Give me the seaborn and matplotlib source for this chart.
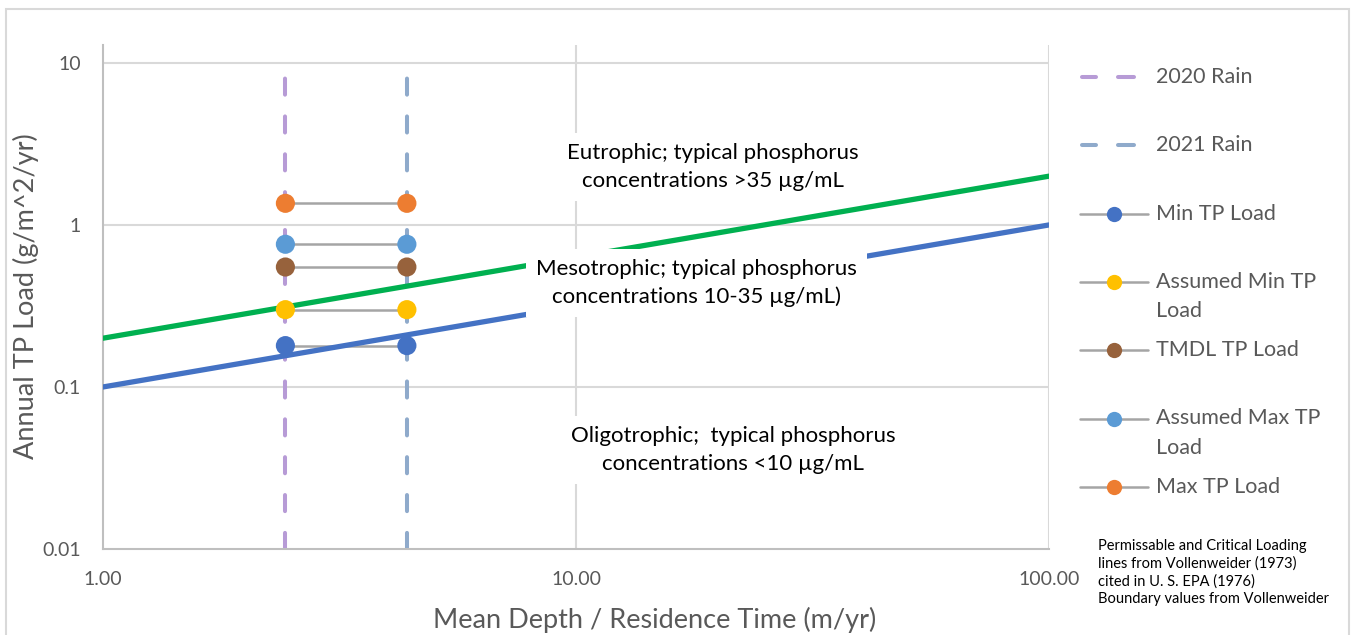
import numpy as np
import pandas as pd
import matplotlib
matplotlib.use("Agg")
import matplotlib.pyplot as plt
from matplotlib.lines import Line2D
from matplotlib.patches import Rectangle
from matplotlib.ticker import FixedLocator, FixedFormatter, NullLocator
import seaborn as sns

# Data
rain_labels = ["2020 Rain", "2021 Rain"]
rain_x = [2.43, 4.39]            # mean depth / residence time (m/yr)
rain_colors = ["#B79BD6", "#8FAACB"]
rain_span = [0.01, 10]

load_labels = ["Min TP Load", "Assumed Min TP\nLoad", "TMDL TP Load",
               "Assumed Max TP\nLoad", "Max TP Load"]
load_values = [0.18, 0.30, 0.55, 0.76, 1.36]   # g/m^2/yr, same at both x positions
load_colors = ["#4472C4", "#FFC000", "#97623C", "#5B9BD5", "#ED7D31"]

# Vollenweider permissible / critical loading lines (endpoints)
boundary_x = [1, 100]
permissible = [0.1, 1.0]
critical = [0.2, 2.0]

x_ticks = [1, 10, 100]
x_ticklabels = ["1.00", "10.00", "100.00"]
y_ticks = [0.01, 0.1, 1, 10]
y_ticklabels = ["0.01", "0.1", "1", "10"]

# long-form table for the load series
loads = pd.DataFrame({
    "series": np.repeat(load_labels, len(rain_x)),
    "x": rain_x * len(load_labels),
    "y": np.repeat(load_values, len(rain_x)),
})

sns.set_style("white")
plt.rcParams["font.family"] = ["Lato", "DejaVu Sans"]

fig = plt.figure(figsize=(13.51, 6.35), dpi=100)
ax = fig.add_axes([103 / 1351, 1 - 549 / 635, 946 / 1351, 504 / 635])

ax.set_xscale("log")
ax.set_yscale("log")
ax.set_xlim(1, 100)
ax.set_ylim(0.01, 12.9)

grid_col = "#D9D9D9"
for v in x_ticks[1:]:
    ax.axvline(v, color=grid_col, lw=1.5, zorder=0)
for v in y_ticks[1:]:
    ax.axhline(v, color=grid_col, lw=1.5, zorder=0)

# vertical rain lines
for lab, xv, col in zip(rain_labels, rain_x, rain_colors):
    sns.lineplot(x=[xv, xv], y=rain_span, ax=ax, color=col, lw=2.9,
                 dashes=False, zorder=2, estimator=None, sort=False)
    ln = ax.lines[-1]
    ln.set_dashes([4.0, 5.4])
    ln.set_dash_capstyle("round")

# grey connectors between the two years
sns.lineplot(data=loads, x="x", y="y", units="series", estimator=None,
             color="#A5A5A5", lw=1.8, ax=ax, zorder=3)

# loading boundaries
sns.lineplot(x=boundary_x, y=critical, ax=ax, color="#00B050", lw=3.8, zorder=4)
sns.lineplot(x=boundary_x, y=permissible, ax=ax, color="#4472C4", lw=3.8, zorder=4)

# load markers
sns.scatterplot(data=loads, x="x", y="y", hue="series", palette=load_colors,
                hue_order=load_labels, s=190, edgecolor="none", ax=ax,
                zorder=5, legend=False)

# region labels with white boxes
box = dict(boxstyle="square,pad=0.45", facecolor="white", edgecolor="none")
txt_kw = dict(ha="center", va="center", fontsize=16, color="black",
              linespacing=1.5, zorder=4.5, bbox=box)
ax.text(19.5, 2.28, "Eutrophic; typical phosphorus\nconcentrations >35 µg/mL", **txt_kw)
ax.text(18.0, 0.438, "Mesotrophic; typical phosphorus\nconcentrations 10-35 µg/mL)", **txt_kw)
ax.text(21.5, 0.0408, "Oligotrophic;  typical phosphorus\nconcentrations <10 µg/mL", **txt_kw)

# axes styling
for s in ["top", "right"]:
    ax.spines[s].set_visible(False)
for s in ["left", "bottom"]:
    ax.spines[s].set_color("#BFBFBF")
    ax.spines[s].set_linewidth(1.5)
ax.xaxis.set_major_locator(FixedLocator(x_ticks))
ax.xaxis.set_major_formatter(FixedFormatter(x_ticklabels))
ax.yaxis.set_major_locator(FixedLocator(y_ticks))
ax.yaxis.set_major_formatter(FixedFormatter(y_ticklabels))
ax.xaxis.set_minor_locator(NullLocator())
ax.yaxis.set_minor_locator(NullLocator())
ax.tick_params(axis="both", length=0, labelsize=14, labelcolor="#595959")
ax.tick_params(axis="x", pad=16)
ax.tick_params(axis="y", pad=16)

ax.set_xlabel("Mean Depth / Residence Time (m/yr)", fontsize=19.5, color="#595959")
ax.set_ylabel("Annual TP Load (g/m^2/yr)", fontsize=19.5, color="#595959")
ax.xaxis.set_label_coords(0.583, -0.115)
ax.yaxis.set_label_coords(-0.068, 0.502)

# legend drawn as in the spreadsheet: fixed slots, wrapped labels run downward
W, H = 1351, 635
slot0, slot_h = 77, 68.3
entries = [(l, c, "dash") for l, c in zip(rain_labels, rain_colors)] + \
          [(l, c, "marker") for l, c in zip(load_labels, load_colors)]
for i, (lab, col, kind) in enumerate(entries):
    yy = 1 - (slot0 + slot_h * i) / H
    if kind == "dash":
        for a, b in [(1082, 1096), (1118, 1134)]:
            fig.add_artist(Line2D([a / W, b / W], [yy, yy], transform=fig.transFigure,
                                  color=col, lw=2.9, solid_capstyle="round"))
    else:
        fig.add_artist(Line2D([1080 / W, 1148 / W], [yy, yy], transform=fig.transFigure,
                              color="#A5A5A5", lw=1.8))
        fig.add_artist(Line2D([1114 / W], [yy], transform=fig.transFigure,
                              marker="o", ms=11, color=col, mec="none"))
    for k, part in enumerate(lab.split("\n")):
        fig.text(1156 / W, yy - 29 * k / H, part, fontsize=15.5, color="#595959",
                 va="center", ha="left")

fig.text(1098 / W, 1 - 539 / H,
         "Permissable and Critical Loading\nlines from Vollenweider (1973)\n"
         "cited in U. S. EPA (1976)\nBoundary values from Vollenweider",
         fontsize=10.5, color="black", va="top", ha="left", linespacing=1.3)

# chart area border
fig.add_artist(Rectangle((6 / W, -0.02), 1343 / W, 1 - 9 / H + 0.02,
                         transform=fig.transFigure, fill=False,
                         edgecolor="#D9D9D9", lw=1.5))

fig.savefig("out.png", dpi=100)
